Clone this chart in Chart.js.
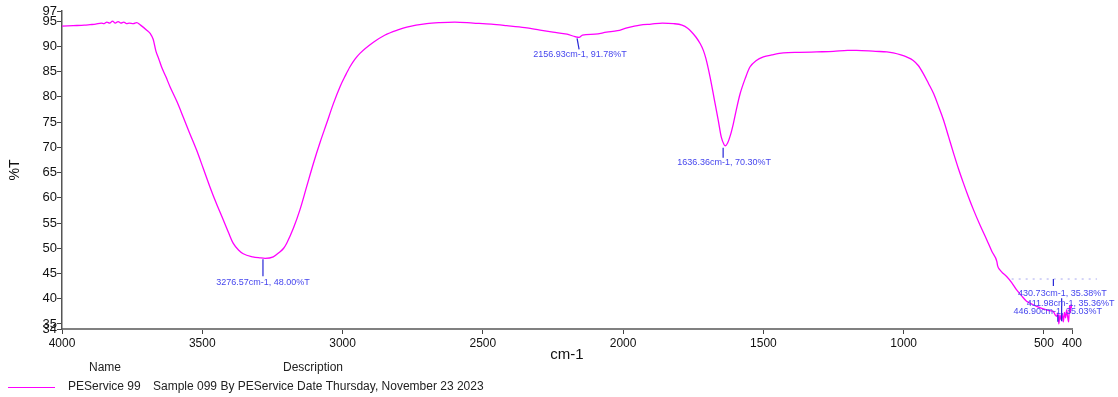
<!DOCTYPE html>
<html>
<head>
<meta charset="utf-8">
<script src="https://cdn.jsdelivr.net/npm/chart.js@4/dist/chart.umd.min.js"></script>
<style>
  html, body { margin: 0; padding: 0; background: #fff; }
</style>
</head>
<body>
<canvas id="irChart" width="1118" height="397"></canvas>
<script>
// spectrum (wavenumber cm-1, %T)
const wavenumbers = [
  4000, 3960, 3920, 3900, 3880, 3860, 3850, 3840, 3830, 3820, 3810, 3800, 3790, 3780, 3770, 3760, 3746, 3734, 3720,
  3698, 3685, 3675, 3665, 3655, 3645, 3630, 3615, 3590, 3568, 3545, 3520, 3497, 3473, 3450, 3425, 3405, 3390, 3370,
  3354, 3320, 3295, 3276, 3247, 3225, 3210, 3199, 3175, 3152, 3128, 3104, 3080, 3057, 3033, 3009, 2990, 2974, 2955,
  2938, 2890, 2850, 2800, 2771, 2700, 2653, 2600, 2534, 2470, 2415, 2350, 2296, 2250, 2200, 2170, 2157, 2145, 2100,
  2059, 2020, 1990, 1960, 1940, 1900, 1860, 1821, 1790, 1770, 1755, 1740, 1725, 1714, 1705, 1690, 1675, 1661, 1650,
  1640, 1636, 1628, 1617, 1607, 1595, 1583, 1565, 1548, 1525, 1500, 1470, 1429, 1370, 1310, 1250, 1200, 1168, 1100,
  1060, 1037, 1010, 990, 966, 948, 930, 912, 893, 875, 858, 840, 822, 805, 787, 770, 751, 728, 704, 685, 668, 665,
  657, 645, 633, 615, 598, 580, 562, 545, 526, 508, 491, 475, 467, 460, 455, 450, 447, 443, 439, 435, 431, 427, 423,
  419, 416, 412, 409, 406, 403, 400
];
const transmittance = [
  94.0, 94.1, 94.2, 94.3, 94.4, 94.6, 94.5, 94.8, 94.6, 95.0, 94.6, 94.9, 94.6, 94.8, 94.5, 94.6, 94.5, 94.7, 94.2,
  93.2, 92.5, 91.4, 89.0, 87.5, 85.9, 84.0, 82.0, 79.0, 76.0, 72.8, 69.4, 65.9, 62.2, 58.9, 55.6, 52.9, 51.0, 49.6,
  48.9, 48.3, 48.1, 48.0, 48.3, 49.2, 50.0, 51.0, 54.0, 57.6, 62.2, 66.8, 71.0, 74.7, 78.6, 82.0, 84.2, 85.9, 87.5,
  88.6, 90.8, 92.2, 93.3, 93.8, 94.5, 94.7, 94.8, 94.6, 94.4, 94.1, 93.7, 93.2, 92.8, 92.4, 91.9, 91.78, 92.2, 92.4,
  92.8, 93.1, 93.6, 94.0, 94.2, 94.4, 94.6, 94.5, 94.2, 93.6, 92.8, 91.8, 90.5, 89.2, 87.6, 83.9, 79.5, 75.4, 72.0,
  70.5, 70.3, 70.8, 72.5, 74.7, 77.8, 80.6, 83.6, 85.9, 87.2, 87.9, 88.3, 88.7, 88.8, 88.9, 89.0, 89.2, 89.2, 89.0,
  88.9, 88.7, 88.3, 87.9, 87.2, 86.2, 84.6, 82.7, 80.6, 78.0, 75.4, 72.1, 68.8, 65.8, 62.9, 60.3, 57.6, 54.6, 51.7,
  49.3, 47.4, 46.5, 45.7, 45.0, 44.4, 43.2, 41.8, 40.6, 39.5, 39.0, 38.5, 38.1, 37.8, 37.6, 37.5, 36.8, 36.5, 37.2,
  35.0, 36.8, 35.8, 37.0, 35.4, 37.3, 36.2, 37.8, 36.6, 35.4, 38.6, 37.2, 38.8, 38.2
];

const xTicks = [4000, 3500, 3000, 2500, 2000, 1500, 1000, 500, 400];
const yTicks = [34, 35, 40, 45, 50, 55, 60, 65, 70, 75, 80, 85, 90, 95, 97];

// labelled peaks
const peakWavenumbers = [3276.57, 2156.93, 1636.36, 430.73, 411.98, 446.90];
const peakTransmittance = [48.00, 91.78, 70.30, 35.38, 35.36, 35.03];

// threshold (dotted) line
const thresholdT = 44;
const thresholdRange = [615, 311];

const sampleName = 'PEService 99';
const sampleDescription = 'Sample 099 By PEService Date Thursday, November 23 2023';

// pixel offsets of each peak marker / label relative to the peak point
const peakLayout = [
  { from: [-2, 1], to: [-2, 18], label: [-2, 24] },
  { from: [-2, 1], to: [0, 12], label: [1, 17] },
  { from: [-2, 2], to: [-2, 12], label: [-1, 17] },
  { from: [-10, -43], to: [-10, -36], label: [-1, -29] },
  { from: [-7, -24], to: [-7, -1], label: [2, -19] },
  { from: [-1, -9], to: [-1, -2], label: [-1, -12] }
];

const FONT = '"Liberation Sans", Arial, sans-serif';

const peakPlugin = {
  id: 'peaks',
  afterDatasetsDraw(chart) {
    const ctx = chart.ctx;
    const xs = chart.scales.x, ys = chart.scales.y;
    ctx.save();

    // dotted threshold
    const ty = ys.getPixelForValue(thresholdT);
    ctx.strokeStyle = '#a8a8f0';
    ctx.lineWidth = 1;
    ctx.setLineDash([2, 5]);
    ctx.beginPath();
    ctx.moveTo(xs.getPixelForValue(thresholdRange[0]), ty + 0.5);
    ctx.lineTo(xs.getPixelForValue(thresholdRange[1]), ty + 0.5);
    ctx.stroke();
    ctx.setLineDash([]);

    ctx.font = '9px ' + FONT;
    ctx.textAlign = 'center';
    ctx.textBaseline = 'middle';
    peakWavenumbers.forEach((wn, i) => {
      const px = xs.getPixelForValue(wn);
      const py = ys.getPixelForValue(peakTransmittance[i]);
      const lay = peakLayout[i];
      ctx.strokeStyle = '#2626d6';
      ctx.lineWidth = 1.2;
      ctx.beginPath();
      ctx.moveTo(px + lay.from[0], py + lay.from[1]);
      ctx.lineTo(px + lay.to[0], py + lay.to[1]);
      ctx.stroke();
      ctx.fillStyle = '#4646ee';
      const txt = wn.toFixed(2) + 'cm-1, ' + peakTransmittance[i].toFixed(2) + '%T';
      ctx.fillText(txt, px + lay.label[0], py + lay.label[1]);
    });
    ctx.restore();
  },
  afterDraw(chart) {
    // sample table under the chart
    const ctx = chart.ctx;
    ctx.save();
    ctx.fillStyle = '#222';
    ctx.font = '12px ' + FONT;
    ctx.textBaseline = 'middle';
    ctx.textAlign = 'center';
    ctx.fillText('Name', 105, 368);
    ctx.fillText('Description', 313, 368);
    ctx.textAlign = 'left';
    ctx.fillText(sampleName, 68, 387);
    ctx.fillText(sampleDescription, 153, 387);
    ctx.strokeStyle = '#ff00ff';
    ctx.lineWidth = 1;
    ctx.beginPath();
    ctx.moveTo(8, 387.5);
    ctx.lineTo(55, 387.5);
    ctx.stroke();
    ctx.restore();
  }
};

new Chart(document.getElementById('irChart').getContext('2d'), {
  type: 'line',
  data: {
    datasets: [{
      data: wavenumbers.map((w, i) => ({ x: w, y: transmittance[i] })),
      borderColor: '#ff00ff',
      borderWidth: 1.3,
      pointRadius: 0,
      cubicInterpolationMode: 'monotone',
      fill: false
    }]
  },
  options: {
    responsive: false,
    animation: false,
    devicePixelRatio: 1,
    layout: { padding: { left: 0, right: 46, top: 11, bottom: 30 } },
    plugins: { legend: { display: false }, tooltip: { enabled: false } },
    scales: {
      x: {
        type: 'linear',
        reverse: true,
        min: 400,
        max: 4000,
        afterBuildTicks: s => { s.ticks = xTicks.map(v => ({ value: v })); },
        afterFit: s => { s.height = 38; },
        grid: { drawOnChartArea: false, drawTicks: true, tickLength: 5, color: '#444', lineWidth: 1 },
        border: { color: '#808080', width: 2 },
        ticks: { autoSkip: false, maxRotation: 0, padding: 2, color: '#111', font: { size: 12, family: FONT },
                 callback: v => String(v) },
        title: { display: true, text: 'cm-1', color: '#111', font: { size: 15, family: FONT }, padding: { top: 0, bottom: 3 } }
      },
      y: {
        min: 34,
        max: 97,
        afterBuildTicks: s => { s.ticks = yTicks.map(v => ({ value: v })); },
        afterFit: s => { s.width = 62; },
        grid: { drawOnChartArea: false, drawTicks: true, tickLength: 5, color: '#444', lineWidth: 1 },
        border: { color: '#555', width: 1.5 },
        ticks: { autoSkip: false, padding: 0, color: '#111', font: { size: 13, family: FONT },
                 callback: v => String(v) },
        title: { display: true, text: '%T', color: '#111', font: { size: 14, family: FONT }, padding: { top: 7, bottom: 0 } }
      }
    }
  },
  plugins: [peakPlugin]
});
</script>
</body>
</html>
